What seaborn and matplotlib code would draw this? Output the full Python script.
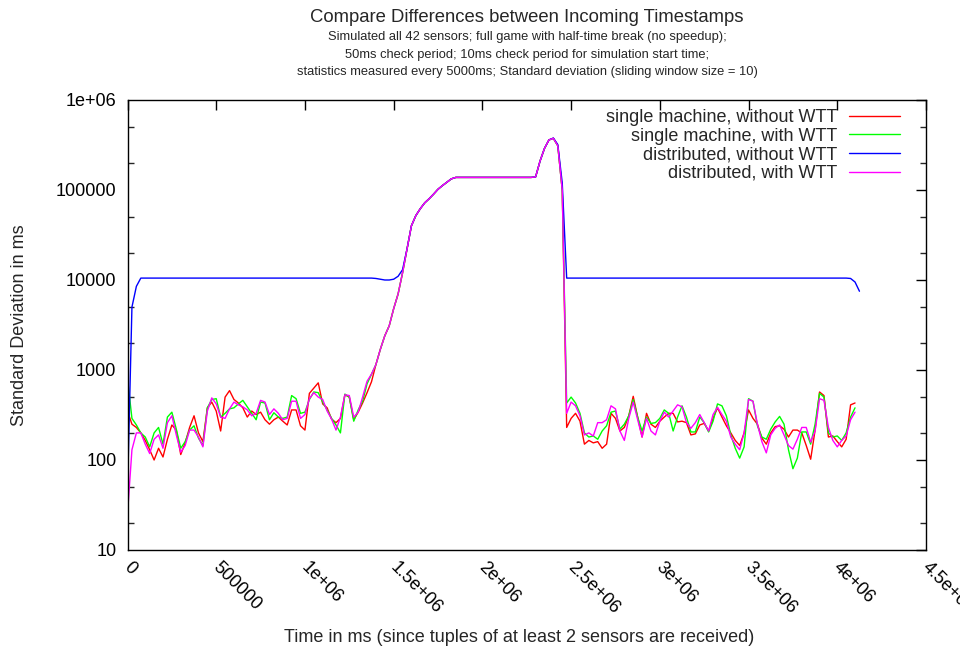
import numpy as np
import pandas as pd
import matplotlib
matplotlib.use("Agg")
import matplotlib.pyplot as plt
import matplotlib.transforms as mtransforms
import seaborn as sns
from matplotlib.ticker import FixedLocator, FixedFormatter

sns.set_theme(style="white")
plt.rcParams['font.family'] = ['Liberation Sans', 'DejaVu Sans']

# ---------------- data ----------------
# statistics samples (ms since tuples of at least 2 sensors are received)
time_ms = np.arange(0, 4125001, 25000)

series_labels = ["single machine, without WTT", "single machine, with WTT",
                 "distributed, without WTT", "distributed, with WTT"]
series_colors = ["#ff0000", "#00ff00", "#0000ff", "#ff00ff"]

# shared rise / plateau / half-time peak (samples 56..98)
peak_part = [1150, 1700, 2400, 3100, 4800, 7000, 12000, 22000, 40000, 52000,
             62000, 72000, 80000, 90000, 102000, 112000, 122000, 133000, 138000,
             138000, 138000, 138000, 138000, 138000, 138000, 138000, 138000, 138000,
             138000, 138000, 138000, 138000, 138000, 138000, 138000, 138000,
             140000, 210000, 290000, 360000, 375000, 310000, 100000]

red_first = [350, 250, 230, 200, 165, 130, 100, 135, 108, 170, 245, 215, 115, 155, 230,
             310, 200, 160, 380, 440, 350, 210, 500, 590, 470, 430, 380, 300, 350,
             320, 340, 280, 250, 280, 300, 270, 245, 360, 360, 240, 215, 550, 630, 720,
             420, 380, 285, 260, 290, 530, 500, 280, 340, 430, 560, 740]
red_second = [230, 290, 330, 270, 150, 165, 155, 160, 135, 150, 330, 290, 210, 230, 310,
              510, 300, 180, 330, 250, 230, 270, 300,
              330, 330, 265, 270, 260, 190, 195, 245, 255, 210, 290, 380, 300, 240, 200,
              165, 145, 200, 360, 290, 250,
              175, 150, 200, 235, 240, 220, 180, 215, 215, 200, 145, 102, 215, 570, 520,
              180, 185, 160, 140, 170, 410, 430]

green_first = [800, 290, 245, 200, 180, 140, 200, 230, 150, 300, 340, 220, 135, 160, 215,
               240, 175, 145, 380, 470, 480, 300, 330, 370, 380, 420, 460, 390, 330,
               280, 440, 430, 280, 335, 300, 290, 300, 520, 480, 330, 340, 470, 570, 560,
               440, 360, 290, 245, 200, 540, 500, 270, 360, 450, 700, 900]
green_second = [430, 500, 430, 330, 200, 180, 185, 170, 210, 240, 340, 350, 220, 250, 310,
                470, 300, 210, 300, 255, 260, 290, 360,
                330, 210, 300, 400, 300, 205, 205, 300, 260, 205, 270, 420, 400, 310, 190,
                135, 105, 140, 480, 450, 240,
                180, 170, 220, 265, 305, 250, 130, 80, 105, 205, 205, 150, 250, 550, 500,
                200, 180, 185, 165, 200, 300, 380]

magenta_first = [25, 130, 200, 200, 150, 118, 170, 190, 135, 260, 310, 190, 122, 145, 215,
                 215, 180, 140, 350, 490, 420, 300, 290, 370, 440, 410, 390, 360, 310,
                 330, 460, 440, 320, 370, 330, 280, 290, 450, 450, 290, 320, 480, 560, 500,
                 470, 350, 285, 215, 300, 530, 520, 300, 340, 500, 750, 900]
magenta_second = [330, 440, 400, 310, 190, 200, 185, 260, 260, 280, 400, 370, 210, 165, 290,
                  440, 280, 180, 290, 210, 190, 270, 340,
                  300, 350, 410, 390, 260, 225, 260, 320, 260, 210, 320, 385, 320, 270, 180,
                  150, 130, 200, 470, 450, 250,
                  160, 120, 190, 225, 245, 190, 145, 132, 170, 230, 230, 158, 210, 480, 460,
                  230, 165, 140, 165, 185, 280, 340]

blue_values = [45, 5000, 8500,
               10500, 10500, 10500, 10500, 10500, 10500, 10500, 10500, 10500, 10500,
               10500, 10500, 10500, 10500, 10500, 10500, 10500, 10500, 10500, 10500,
               10500, 10500, 10500, 10500, 10500, 10500, 10500, 10500, 10500, 10500,
               10500, 10500, 10500, 10500, 10500, 10500, 10500, 10500, 10500, 10500,
               10500, 10500, 10500, 10500, 10500, 10500, 10500, 10500, 10500, 10500,
               10500, 10500, 10500,
               10400, 10200, 10000, 10000, 10200, 11000,
               13000, 22000, 40000, 52000, 62000, 72000, 80000, 90000, 102000, 112000,
               122000, 133000, 138000,
               138000, 138000, 138000, 138000, 138000, 138000, 138000, 138000, 138000,
               138000, 138000, 138000, 138000, 138000, 138000, 138000, 138000,
               140000, 210000, 290000, 360000, 378000, 320000, 120000,
               10500, 10500, 10500, 10500, 10500, 10500, 10500, 10500, 10500, 10500,
               10500, 10500, 10500, 10500, 10500, 10500, 10500, 10500, 10500, 10500,
               10500, 10500, 10500, 10500, 10500, 10500, 10500, 10500, 10500, 10500,
               10500, 10500, 10500, 10500, 10500, 10500, 10500, 10500, 10500, 10500,
               10500, 10500, 10500, 10500, 10500, 10500, 10500, 10500, 10500, 10500,
               10500, 10500, 10500, 10500, 10500, 10500, 10500, 10500, 10500, 10500,
               10500, 10500, 10500, 10500,
               10400, 9500, 7500]

y_ticks = [10, 100, 1000, 10000, 100000, 1000000]
y_tick_labels = ["10", "100", "1000", "10000", "100000", "1e+06"]
x_ticks = [0, 500000, 1000000, 1500000, 2000000, 2500000, 3000000, 3500000, 4000000, 4500000]
x_tick_labels = ["0", "500000", "1e+06", "1.5e+06", "2e+06", "2.5e+06", "3e+06",
                 "3.5e+06", "4e+06", "4.5e+06"]

# ---------------- assemble ----------------
series_values = [red_first + peak_part + red_second,
                 green_first + peak_part + green_second,
                 blue_values,
                 magenta_first + peak_part + magenta_second]
frames = []
for lab, vals in zip(series_labels, series_values):
    frames.append(pd.DataFrame({"time": time_ms[:len(vals)], "sd": vals, "series": lab}))
df = pd.concat(frames, ignore_index=True)

# ---------------- plot ----------------
fig = plt.figure(figsize=(9.6, 6.53), dpi=100)
ax = fig.add_axes([127.5 / 960, 103 / 653, 798.5 / 960, 450 / 653])

sns.lineplot(data=df, x="time", y="sd", hue="series", hue_order=series_labels,
             palette=dict(zip(series_labels, series_colors)), estimator=None,
             linewidth=1.0, ax=ax)

ax.set_yscale("log")
ax.set_xlim(0, 4500000)
ax.set_ylim(10, 1000000)

ax.yaxis.set_major_locator(FixedLocator(y_ticks))
ax.yaxis.set_major_formatter(FixedFormatter(y_tick_labels))
minor = [m * d for d in [10, 100, 1000, 10000, 100000] for m in (2, 5)]
ax.yaxis.set_minor_locator(FixedLocator(minor))
ax.yaxis.set_minor_formatter(FixedFormatter([""] * len(minor)))
ax.set_xticks(x_ticks)
ax.set_xticklabels(x_tick_labels, rotation=-45, ha="left", va="top",
                   rotation_mode="anchor")

ax.tick_params(axis="both", which="major", direction="in", length=7, width=1,
               top=True, right=True, labelsize=13, colors="black")
ax.tick_params(axis="y", which="minor", direction="in", length=4, width=1,
               left=True, right=True)
ax.tick_params(axis="x", which="major", pad=6)
ax.tick_params(axis="y", which="major", pad=8)
shift = mtransforms.ScaledTranslation(5 / 100, 0, fig.dpi_scale_trans)
for lbl in ax.get_xticklabels():
    lbl.set_transform(lbl.get_transform() + shift)
for s in ax.spines.values():
    s.set_color("black")
    s.set_linewidth(1.0)

ax.set_xlabel("Time in ms (since tuples of at least 2 sensors are received)", fontsize=13)
ax.set_ylabel("Standard Deviation in ms", fontsize=13)
ax.xaxis.set_label_coords(0.49, -0.175)
ax.yaxis.set_label_coords(-0.124, 0.5)

cx = 527 / 960
fig.text(cx, 1 - 17 / 653, "Compare Differences between Incoming Timestamps",
         ha="center", va="center", fontsize=13.3)
fig.text(cx, 1 - 37 / 653,
         "Simulated all 42 sensors; full game with half-time break (no speedup);",
         ha="center", va="center", fontsize=9.3)
fig.text(cx, 1 - 55 / 653,
         "50ms check period; 10ms check period for simulation start time;",
         ha="center", va="center", fontsize=9.3)
fig.text(cx, 1 - 72 / 653,
         "statistics measured every 5000ms; Standard deviation (sliding window size = 10)",
         ha="center", va="center", fontsize=9.3)

handles, labels = ax.get_legend_handles_labels()
ax.legend(handles, labels, loc="upper right", bbox_to_anchor=(900 / 960, 1 - 109 / 653),
          bbox_transform=fig.transFigure, frameon=False, markerfirst=False,
          fontsize=13, handlelength=2.8, handletextpad=0.65, labelspacing=0.09,
          borderpad=0, borderaxespad=0)

fig.savefig("out.png", dpi=100, facecolor="white")
